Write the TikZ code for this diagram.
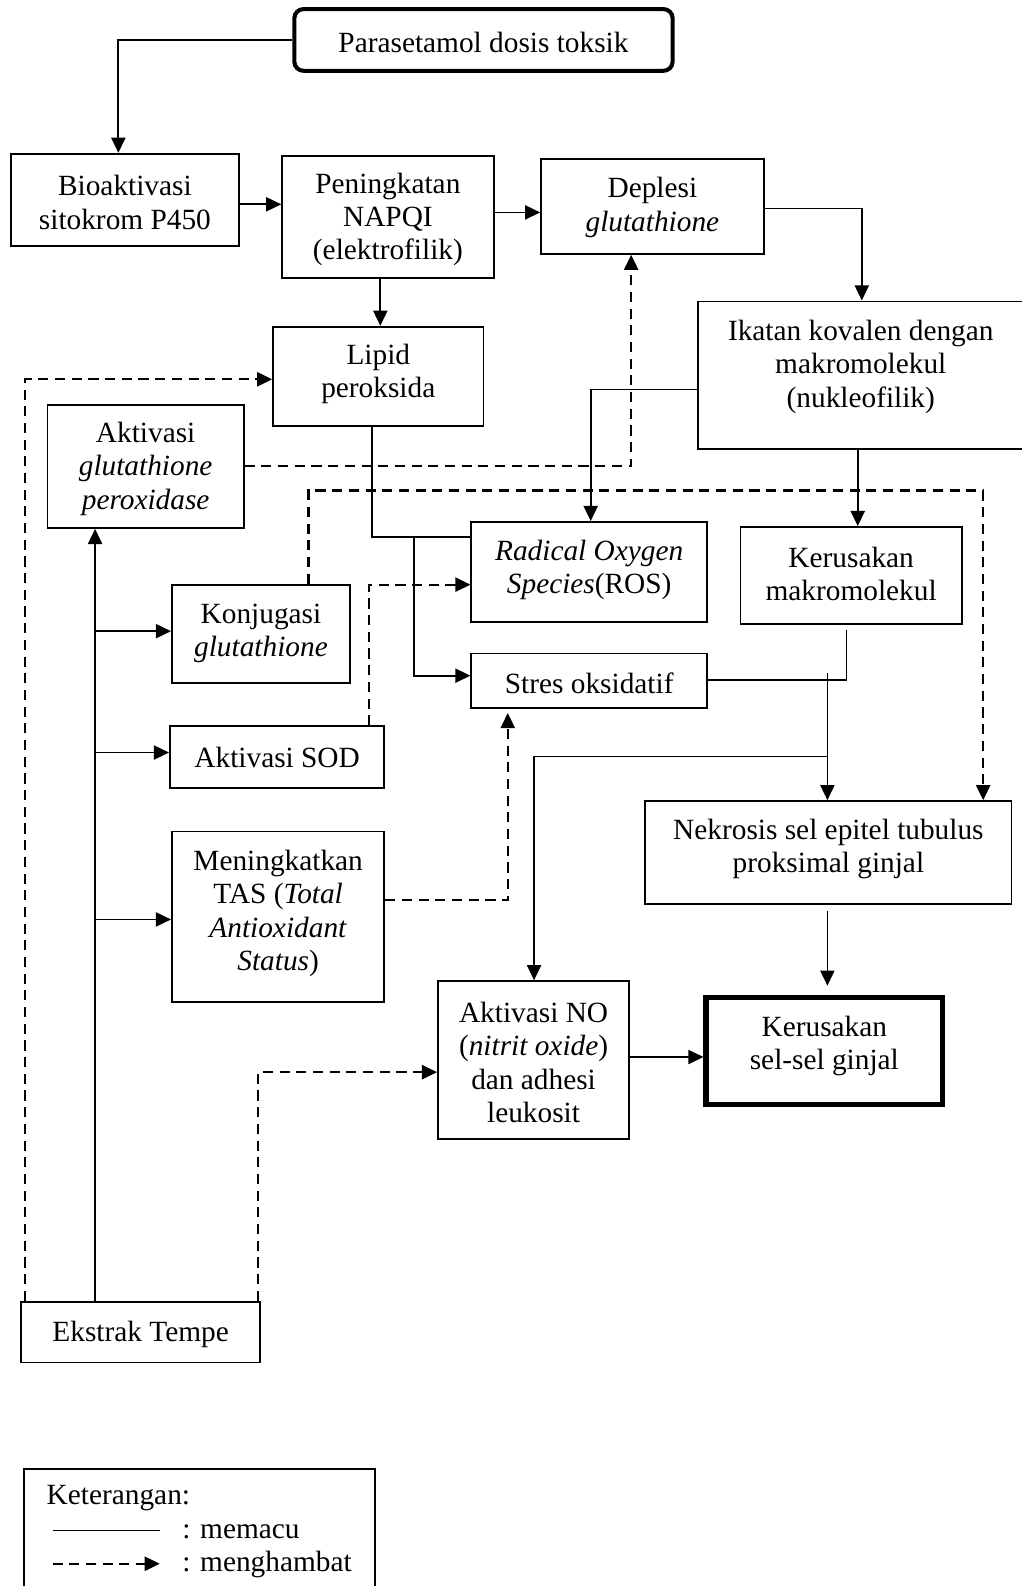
\documentclass[tikz,border=0pt]{standalone}
\usepackage{fontspec}
\setmainfont{Liberation Serif}
\usetikzlibrary{arrows.meta}
\newcommand\bx[7]{%
  \node[box,minimum width=#4pt,minimum height=#5pt,#1] (#2) at (#3) {};
  \node[txt] (#2-t) at ([yshift=#6pt-2.5pt]#2.center) {#7};}
\begin{document}
\begin{tikzpicture}[x=1pt,y=-1pt,
  box/.style={draw, line width=1.8pt, inner sep=0pt, rectangle},
  txt/.style={align=center, inner sep=0pt, font=\fontsize{29}{33}\selectfont},
  ln/.style={line width=1.7pt},
  arr/.style={line width=1.7pt, -{Triangle[length=15pt,width=14pt]}},
  dsh/.style={line width=2.2pt, dash pattern=on 10pt off 6.5pt, -{Triangle[length=15pt,width=14pt]}}]
\useasboundingbox (0,0) rectangle (1010,1568);

\bx{line width=4pt,rounded corners=9pt}{para}{478,39.5}{374}{61}{0}{Parasetamol dosis toksik}
\bx{}{bio}{123.5,197.5}{225}{91}{0}{Bioaktivasi\\sitokrom P450}
\bx{}{nap}{383.5,214.5}{209}{121}{0}{Peningkatan\\NAPQI\\(elektrofilik)}
\bx{}{dep}{645,204}{220}{94}{1.5}{Deplesi\\\textit{glutathione}}
\bx{}{ika}{851,371}{322}{146}{11}{Ikatan kovalen dengan\\makromolekul\\(nukleofilik)}
\bx{}{lip}{374,372}{208}{98}{4.5}{Lipid\\peroksida}
\bx{}{gpx}{144,461}{194}{122}{0}{Aktivasi\\\textit{glutathione}\\\textit{peroxidase}}
\bx{}{ros}{582.5,565.5}{233}{99}{4.5}{\textit{Radical Oxygen}\\\textit{Species}(ROS)}
\bx{}{kmak}{841.5,569}{219}{96}{4}{Kerusakan\\makromolekul}
\bx{}{konj}{258,626.5}{176}{97}{3}{Konjugasi\\\textit{glutathione}}
\bx{}{stres}{582.5,673}{233}{54}{0}{Stres oksidatif}
\bx{}{sod}{274,748.5}{212}{61}{2}{Aktivasi SOD}
\bx{}{tas}{275,906.5}{210}{169}{6}{Meningkatkan\\TAS (\textit{Total}\\\textit{Antioxidant}\\\textit{Status})}
\bx{}{nek}{819,843}{362}{102}{6}{Nekrosis sel epitel tubulus\\proksimal ginjal}
\bx{}{no}{527.5,1048}{189}{156}{0}{Aktivasi NO\\(\textit{nitrit oxide})\\dan adhesi\\leukosit}
\bx{line width=5pt}{ker}{815,1039}{234}{106}{7.5}{Kerusakan\\sel-sel ginjal}
\bx{}{eks}{139,1317}{236}{60}{0}{Ekstrak Tempe}

% solid connectors
\draw[arr] (para.west) -| (bio.north -| 117,0);
\draw[arr] (bio.east |- 0,202) -- (nap.west |- 0,202);
\draw[arr] (nap.east |- 0,210) -- (dep.west |- 0,210);
\draw[arr] (nap.south -| 376,0) -- (lip.north -| 376,0);
\draw[arr] (dep.east |- 0,206) -| (ika.north -| 852,0);
\draw[arr] (ika.west |- 0,385) -| (ros.north -| 584,0);
\draw[arr] (ika.south -| 848,0) -- (kmak.north -| 848,0);
\draw[ln] (lip.south -| 368,0) |- (ros.west |- 0,531);
\coordinate (j1) at (409,531);
\draw[arr] (j1) |- (stres.west |- 0,668);
\coordinate (j2) at (837,623);
\draw[ln] (j2) |- (stres.east |- 0,672);
\coordinate (j3) at (818,665);
\draw[arr] (j3) -- (nek.north -| 818,0);
\coordinate (j4) at (818,748);
\draw[arr] (j4) -| (no.north -| 528,0);
\draw[arr, shorten <=6pt, shorten >=9pt] (nek.south -| 818,0) -- (ker.north -| 818,0);
\draw[arr] (no.east |- 0,1045) -- (ker.west |- 0,1045);
\draw[arr] (eks.north -| 94,0) -- (gpx.south -| 94,0);
\coordinate (b1) at (94,624);
\coordinate (b2) at (94,744);
\coordinate (b3) at (94,909);
\draw[arr] (b1) -- (konj.west |- b1);
\draw[arr] (b2) -- (sod.west |- b2);
\draw[arr] (b3) -- (tas.west |- b3);

% dashed connectors
\draw[dsh] (eks.north -| 25,0) |- (lip.west |- 0,375);
\draw[dsh] (gpx.east |- 0,461) -| (dep.south -| 624,0);
\draw[dsh] (konj.north -| 305,0) -- (305,485) -- (972,485) -- (nek.north -| 972,0);
\draw[dsh] (sod.north -| 365,0) |- (ros.west |- 0,578);
\draw[dsh, shorten >=4pt] (tas.east |- 0,890) -| (stres.south -| 502,0);
\draw[dsh] (eks.north -| 255,0) |- (no.west |- 0,1060);

% legend
\node[box, minimum width=347pt, minimum height=125pt] (leg) at (197.5,1514.5) {};
\node[txt, anchor=west] (leg-t) at (46,1481) {Keterangan:};
\coordinate (l1a) at (52,1513);
\coordinate (l1b) at (158,1513);
\coordinate (l2a) at (52,1546);
\coordinate (l2b) at (158,1546);
\draw[ln] (l1a) -- (l1b);
\draw[dsh] (l2a) -- (l2b);
\node[txt, anchor=west] (leg-1) at (180,1514) {: memacu};
\node[txt, anchor=west] (leg-2) at (180,1547) {: menghambat};
\end{tikzpicture}
\end{document}
